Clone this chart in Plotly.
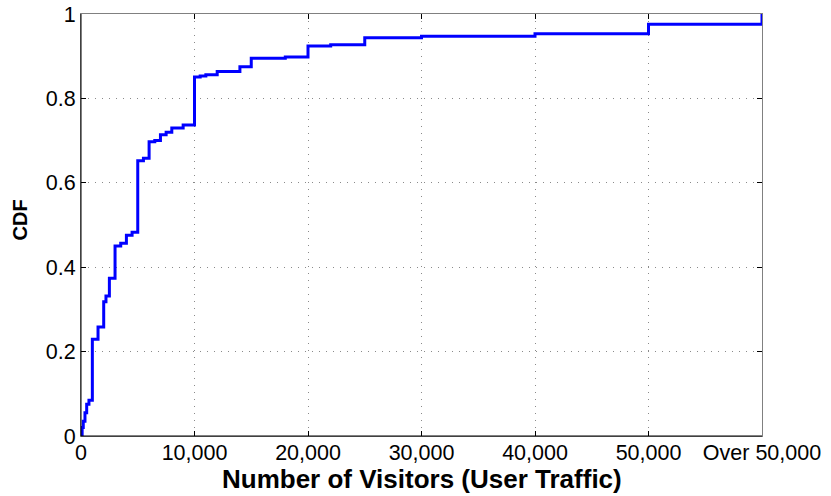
import plotly.graph_objects as go

# Data (step plot)
visitors = [0, 100, 200, 350, 500, 700, 1000, 1500, 2000, 2200, 2500, 3000, 3500,
            4000, 4500, 5000, 5500, 6000, 6500, 7000, 7500, 8000, 9000, 10000,
            10500, 11000, 12000, 14000, 15000, 18000, 20000, 22000, 25000, 30000,
            40000, 50000, 60000]
cdf = [0.0, 0.02, 0.035, 0.055, 0.075, 0.085, 0.229, 0.258, 0.318, 0.332, 0.374,
       0.450, 0.457, 0.476, 0.483, 0.652, 0.658, 0.697, 0.700, 0.714, 0.720, 0.730,
       0.737, 0.851, 0.853, 0.856, 0.864, 0.875, 0.895, 0.898, 0.924, 0.927, 0.944,
       0.947, 0.953, 0.976, 1.0]

x_tickvals = [0, 10000, 20000, 30000, 40000, 50000, 60000]
x_ticktext = ["0", "10,000", "20,000", "30,000", "40,000", "50,000", "Over 50,000"]
y_tickvals = [0, 0.2, 0.4, 0.6, 0.8, 1]
y_ticktext = ["0", "0.2", "0.4", "0.6", "0.8", "1"]
x_title = "Number of Visitors (User Traffic)"
y_title = "CDF"

FONT = "Liberation Sans, Arial, Helvetica, sans-serif"

fig = go.Figure()
fig.add_trace(go.Scatter(
    x=visitors, y=cdf, mode="lines", line=dict(color="#0000FF", width=3, shape="hv"),
    showlegend=False, hoverinfo="x+y"))

common_axis = dict(
    showline=True, linecolor="#808080", linewidth=1, mirror="allticks",
    ticks="inside", ticklen=5, tickcolor="#000000", tickwidth=1,
    showgrid=True, gridcolor="#8a8a8a", griddash="1px,6px", gridwidth=1,
    zeroline=False, tickfont=dict(family=FONT, size=21.5, color="#000000"),
    automargin=False, ticklabeloverflow="allow",
)

fig.update_layout(
    width=831, height=496,
    margin=dict(l=81, r=69, t=14, b=60),
    paper_bgcolor="white", plot_bgcolor="white",
    xaxis=dict(range=[0, 60000], tickvals=x_tickvals, ticktext=x_ticktext,
               ticklabelstandoff=-3, **common_axis),
    yaxis=dict(range=[0, 1], tickvals=y_tickvals, ticktext=y_ticktext,
               ticklabelstandoff=0, **common_axis),
    shapes=[
        dict(type="line", xref="paper", yref="paper", x0=0, x1=0, y0=0, y1=1,
             line=dict(color="#000000", width=1)),
        dict(type="line", xref="paper", yref="paper", x0=0, x1=1, y0=0, y1=0,
             line=dict(color="#000000", width=1)),
    ],
    annotations=[
        dict(text="<b>" + x_title + "</b>", xref="paper", yref="paper",
             x=0.5, y=-0.102, xanchor="center", yanchor="middle", showarrow=False,
             font=dict(family=FONT, size=26, color="#000")),
        dict(text="<b>" + y_title + "</b>", xref="paper", yref="paper",
             x=-0.0896, y=0.513, xanchor="center", yanchor="middle", showarrow=False,
             textangle=-90, font=dict(family=FONT, size=20, color="#000")),
    ],
)

# Remove the default 8px page margin so the 831x496 figure fills the window exactly.
fig.write_html("out.html", config={"displayModeBar": False},
               post_script="document.body.style.margin='0';document.body.style.overflow='hidden';")
